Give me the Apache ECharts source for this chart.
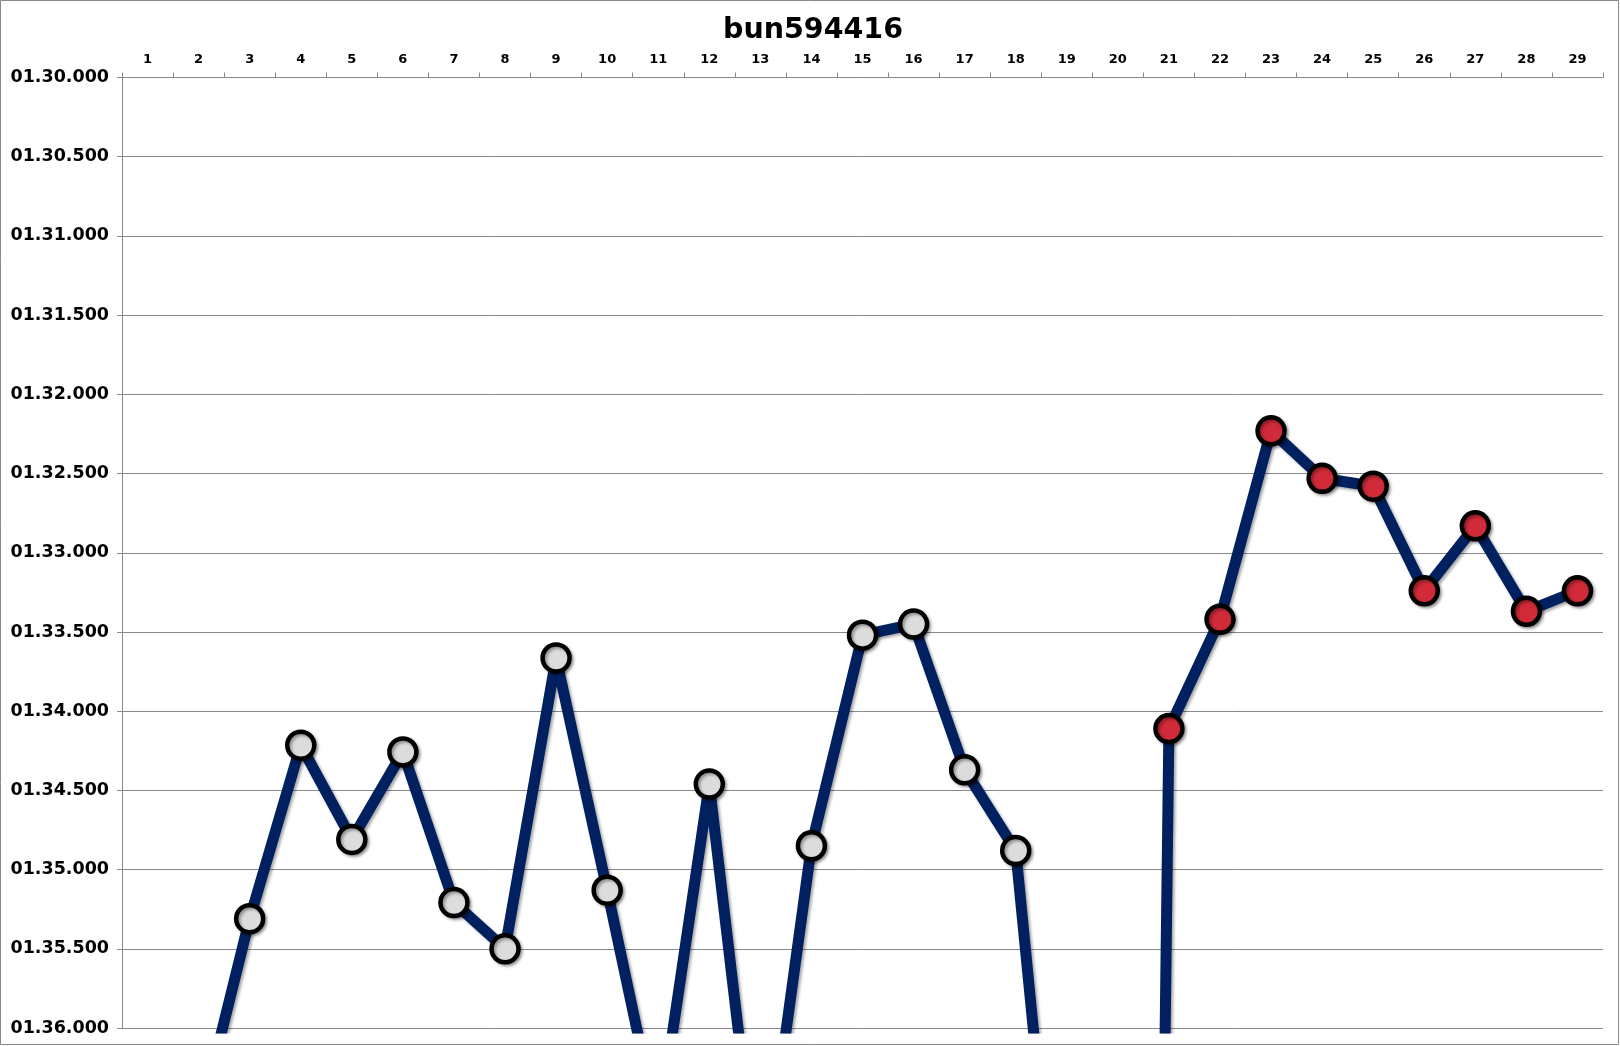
<!DOCTYPE html>
<html>
<head>
<meta charset="utf-8">
<script src="https://cdn.jsdelivr.net/npm/echarts@6/dist/echarts.min.js"></script>
<style>
html,body{margin:0;padding:0;background:#fff;}
#chart{width:1620px;height:1046px;}
</style>
</head>
<body>
<div id="chart"></div>
<script>
// Lap numbers (categories)
const laps = ['1','2','3','4','5','6','7','8','9','10','11','12','13','14','15','16','17','18','19','20','21','22','23','24','25','26','27','28','29'];
// Lap times in seconds (values beyond 96 s fall below the visible range)
const lapTimes = [100.0, 96.61, 95.31, 94.215, 94.81, 94.257, 95.208, 95.50, 93.664, 95.13,
                  96.64, 94.46, 97.2, 94.85, 93.52, 93.45, 94.37, 94.88, 98.15, 120.0,
                  94.11, 93.42, 92.23, 92.53, 92.58, 93.24, 92.83, 93.37, 93.24];
const chartTitle = 'bun594416';
const yMin = 90, yMax = 96, yStep = 0.5;
const highlightFromLap = 21;

function fmtTime(v) {
  const ms = Math.round(v * 1000);
  const m = Math.floor(ms / 60000);
  const s = Math.floor((ms % 60000) / 1000);
  const r = ms % 1000;
  return String(m).padStart(2, '0') + '.' + String(s).padStart(2, '0') + '.' + String(r).padStart(3, '0');
}

const chart = echarts.init(document.getElementById('chart'), null, {renderer: 'canvas'});
const FONT = 'DejaVu Sans';
chart.setOption({
  animation: false,
  backgroundColor: '#ffffff',
  title: {
    text: chartTitle,
    left: 808, top: 11, textAlign: 'center',
    textStyle: {fontFamily: FONT, fontWeight: 'bold', fontSize: 28.5, color: '#000'}
  },
  graphic: [{
    type: 'rect', silent: true, z: 100,
    shape: {x: 0.5, y: 0.5, width: 1618, height: 1044},
    style: {fill: null, stroke: '#888888', lineWidth: 1}
  }],
  grid: {left: 122, right: 17, top: 77.5, bottom: 18, containLabel: false},
  xAxis: {
    type: 'category',
    position: 'top',
    data: laps,
    boundaryGap: true,
    axisLine: {lineStyle: {color: '#888888', width: 1}},
    axisTick: {show: true, length: 5, lineStyle: {color: '#888888'}},
    axisLabel: {fontFamily: FONT, fontWeight: 'bold', fontSize: 13, color: '#000', margin: 11, interval: 0},
    splitLine: {show: false}
  },
  yAxis: {
    type: 'value',
    inverse: true,
    min: yMin, max: yMax, interval: yStep,
    axisLine: {show: true, lineStyle: {color: '#888888', width: 1}},
    axisTick: {show: true, length: 5, lineStyle: {color: '#888888'}},
    axisLabel: {fontFamily: FONT, fontWeight: 'bold', fontSize: 17.5, color: '#000', margin: 13, formatter: fmtTime},
    splitLine: {show: true, lineStyle: {color: '#888888', width: 1}}
  },
  series: [{
    type: 'line',
    data: lapTimes.map((v, i) => ({
      value: v,
      itemStyle: {color: (i + 1) >= highlightFromLap ? '#d12a38' : '#dcdcdc'}
    })),
    clip: true,
    symbol: 'circle',
    symbolSize: 27,
    showAllSymbol: true,
    lineStyle: {color: '#00205f', width: 11, shadowColor: 'rgba(0,0,0,0.35)', shadowBlur: 3, shadowOffsetX: 2, shadowOffsetY: 2},
    itemStyle: {borderColor: '#000000', borderWidth: 4.5, shadowColor: 'rgba(0,0,0,0.35)', shadowBlur: 3, shadowOffsetX: 2, shadowOffsetY: 2},
    emphasis: {disabled: true}
  }]
});
</script>
</body>
</html>
